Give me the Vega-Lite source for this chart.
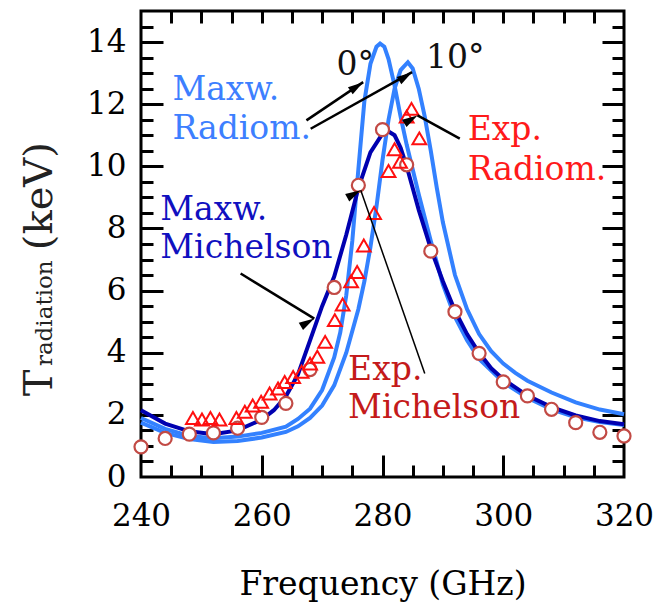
{
  "$schema": "https://vega.github.io/schema/vega-lite/v6.json",
  "width": 483,
  "height": 466,
  "autosize": {"type": "none"},
  "padding": {"left": 141, "top": 11, "right": 38, "bottom": 129},
  "background": "white",
  "config": {
    "view": {"stroke": "black", "strokeWidth": 3},
    "axis": {"grid": false, "domain": false, "labelFont": "DejaVu Serif", "titleFont": "DejaVu Serif", "labelColor": "black", "titleColor": "black", "tickColor": "black", "tickWidth": 3, "labelFontSize": 31, "titleFontWeight": "normal"}
  },
  "datasets": {
    "maxw0": [
      {"f":240,"T":1.9},{"f":244,"T":1.55},{"f":248,"T":1.32},{"f":252,"T":1.25},{"f":256,"T":1.3},{"f":260,"T":1.42},{"f":264,"T":1.62},{"f":266,"T":1.87},{"f":268,"T":2.2},{"f":270,"T":2.8},{"f":272,"T":3.85},{"f":273,"T":4.65},{"f":274,"T":5.85},{"f":275,"T":7.6},{"f":276,"T":9.9},{"f":277,"T":12.1},{"f":278,"T":13.3},{"f":279,"T":13.85},{"f":279.6,"T":13.95},{"f":280.3,"T":13.85},{"f":281,"T":13.45},{"f":282,"T":12.6},{"f":283,"T":11.6},{"f":284,"T":10.7},{"f":286,"T":9.1},{"f":288,"T":7.6},{"f":290,"T":6.2},{"f":292,"T":5.15},{"f":294,"T":4.4},{"f":296,"T":3.8},{"f":300,"T":3.05},{"f":304,"T":2.55},{"f":308,"T":2.18},{"f":312,"T":1.92},{"f":316,"T":1.77},{"f":320,"T":1.67}
    ],
    "maxw10": [
      {"f":240,"T":1.75},{"f":244,"T":1.42},{"f":248,"T":1.22},{"f":252,"T":1.13},{"f":256,"T":1.16},{"f":260,"T":1.27},{"f":264,"T":1.45},{"f":266,"T":1.63},{"f":268,"T":1.9},{"f":270,"T":2.3},{"f":272,"T":2.95},{"f":274,"T":4.0},{"f":276,"T":5.4},{"f":277,"T":6.3},{"f":278,"T":7.4},{"f":279,"T":8.7},{"f":280,"T":10.2},{"f":281,"T":11.5},{"f":282,"T":12.5},{"f":283,"T":13.1},{"f":284.2,"T":13.35},{"f":285,"T":13.15},{"f":286,"T":12.5},{"f":287,"T":11.6},{"f":288,"T":10.5},{"f":289,"T":9.3},{"f":290,"T":8.2},{"f":292,"T":6.5},{"f":294,"T":5.4},{"f":296,"T":4.6},{"f":298,"T":4.05},{"f":300,"T":3.65},{"f":302,"T":3.35},{"f":304,"T":3.1},{"f":308,"T":2.72},{"f":312,"T":2.4},{"f":316,"T":2.17},{"f":320,"T":2.02}
    ],
    "mich": [
      {"f":240,"T":2.15},{"f":244,"T":1.72},{"f":248,"T":1.47},{"f":252,"T":1.38},{"f":256,"T":1.5},{"f":260,"T":1.85},{"f":262,"T":2.15},{"f":264,"T":2.6},{"f":266,"T":3.3},{"f":268,"T":4.4},{"f":270,"T":5.5},{"f":272,"T":6.45},{"f":274,"T":7.8},{"f":276,"T":9.3},{"f":278,"T":10.45},{"f":280,"T":11.05},{"f":281,"T":11.12},{"f":282,"T":11.0},{"f":283,"T":10.6},{"f":284,"T":10.0},{"f":285,"T":9.3},{"f":286,"T":8.6},{"f":288,"T":7.35},{"f":290,"T":6.3},{"f":292,"T":5.35},{"f":294,"T":4.6},{"f":296,"T":4.0},{"f":298,"T":3.5},{"f":300,"T":3.15},{"f":304,"T":2.62},{"f":308,"T":2.25},{"f":312,"T":1.98},{"f":316,"T":1.8},{"f":320,"T":1.7}
    ],
    "expMich": [
      {"f":240,"T":0.97},{"f":244,"T":1.24},{"f":248,"T":1.38},{"f":252,"T":1.42},{"f":256,"T":1.57},{"f":260,"T":1.92},{"f":264,"T":2.37},{"f":268,"T":3.46},{"f":272,"T":6.1},{"f":276,"T":9.39},{"f":280,"T":11.18},{"f":284,"T":10.05},{"f":288,"T":7.27},{"f":292,"T":5.32},{"f":296,"T":3.98},{"f":300,"T":3.06},{"f":304,"T":2.61},{"f":308,"T":2.18},{"f":312,"T":1.75},{"f":316,"T":1.44},{"f":320,"T":1.32}
    ],
    "expRad": [
      {"f":248.6,"T":1.9},{"f":250.1,"T":1.85},{"f":251.5,"T":1.9},{"f":253.0,"T":1.85},{"f":255.8,"T":1.9},{"f":257.2,"T":2.1},{"f":258.5,"T":2.3},{"f":259.9,"T":2.42},{"f":261.3,"T":2.69},{"f":262.7,"T":2.85},{"f":263.8,"T":3.06},{"f":265.2,"T":3.22},{"f":266.6,"T":3.39},{"f":268.0,"T":3.65},{"f":269.2,"T":3.87},{"f":270.5,"T":4.35},{"f":272.1,"T":5.05},{"f":273.4,"T":5.55},{"f":274.8,"T":6.3},{"f":275.8,"T":6.6},{"f":276.9,"T":7.45},{"f":278.6,"T":8.5},{"f":281.0,"T":9.85},{"f":282.0,"T":10.55},{"f":282.9,"T":10.15},{"f":284.0,"T":11.6},{"f":284.8,"T":11.85},{"f":286.1,"T":10.9}
    ],
    "notes": [
      {"label":"Maxw.","f":245.2,"T":12.12,"who":"maxwRad"},
      {"label":"Radiom.","f":245.2,"T":10.89,"who":"maxwRad"},
      {"label":"Exp.","f":294.1,"T":10.84,"who":"expRad"},
      {"label":"Radiom.","f":294.1,"T":9.55,"who":"expRad"},
      {"label":"Maxw.","f":243.2,"T":8.26,"who":"maxwMich"},
      {"label":"Michelson","f":243.2,"T":7.04,"who":"maxwMich"},
      {"label":"Exp.","f":274.3,"T":3.12,"who":"expMich"},
      {"label":"Michelson","f":274.3,"T":1.9,"who":"expMich"},
      {"label":"0°","f":272.4,"T":12.93,"who":"angle"},
      {"label":"10°","f":287.2,"T":13.18,"who":"angle"}
    ],
    "ytitle": [
      {"label":"T","f":225.2,"T":2.6,"part":"big"},
      {"label":"radiation","f":225.3,"T":3.57,"part":"sub"},
      {"label":"(keV)","f":225.2,"T":7.3,"part":"big"}
    ],
    "arrows": [
      {"arrow":"r0","f1":267.4,"T1":11.48,"f2":276.8,"T2":12.71},
      {"arrow":"r10","f1":268.1,"T1":11.21,"f2":284.9,"T2":13.03},
      {"arrow":"er","f1":292.8,"T1":10.89,"f2":285.8,"T2":11.64},
      {"arrow":"mm","f1":256.5,"T1":6.55,"f2":268.7,"T2":5.1},
      {"arrow":"em","f1":287.0,"T1":3.33,"f2":276.4,"T2":9.23}
    ]
  },
  "layer": [
    {
      "data": {"name": "maxw0"},
      "mark": {"type": "line", "color": "#3381ff", "strokeWidth": 4},
      "encoding": {
        "x": {"field": "f", "type": "quantitative", "scale": {"domain": [240, 320], "nice": false, "zero": false},
              "axis": {"orient": "bottom", "values": [240, 260, 280, 300, 320], "ticks": false, "labelPadding": 24, "labelFlush": false, "labelOverlap": false, "title": "Frequency (GHz)", "titleFontSize": 33, "titlePadding": 37}},
        "y": {"field": "T", "type": "quantitative", "scale": {"domain": [0, 15], "nice": false, "zero": false},
              "axis": {"orient": "left", "values": [0, 2, 4, 6, 8, 10, 12, 14], "ticks": false, "labelPadding": 15, "labelFlush": false, "labelOverlap": false, "title": null}}
      }
    },
    {
      "data": {"name": "maxw10"},
      "mark": {"type": "line", "color": "#3381ff", "strokeWidth": 4},
      "encoding": {
        "x": {"field": "f", "type": "quantitative", "axis": {"orient": "bottom", "values": [260, 280, 300], "labels": false, "tickSize": -22, "title": null}},
        "y": {"field": "T", "type": "quantitative", "axis": {"orient": "left", "values": [2, 4, 6, 8, 10, 12, 14], "labels": false, "tickSize": -22, "title": null}}
      }
    },
    {
      "data": {"name": "mich"},
      "mark": {"type": "line", "color": "#0000b0", "strokeWidth": 4},
      "encoding": {
        "x": {"field": "f", "type": "quantitative", "axis": {"orient": "bottom", "values": [245, 250, 255, 265, 270, 275, 285, 290, 295, 305, 310, 315], "labels": false, "tickSize": -12, "title": null}},
        "y": {"field": "T", "type": "quantitative", "axis": {"orient": "left", "values": [0.5, 1, 1.5, 2.5, 3, 3.5, 4.5, 5, 5.5, 6.5, 7, 7.5, 8.5, 9, 9.5, 10.5, 11, 11.5, 12.5, 13, 13.5, 14.5], "labels": false, "tickSize": -12, "title": null}}
      }
    },
    {
      "data": {"name": "expMich"},
      "mark": {"type": "point", "shape": "circle", "filled": true, "fill": "white", "stroke": "#c24a45", "strokeWidth": 2.2, "size": 170, "opacity": 1},
      "encoding": {
        "x": {"field": "f", "type": "quantitative", "axis": {"orient": "top", "values": [245, 250, 255, 260, 265, 270, 275, 280, 285, 290, 295, 300, 305, 310, 315], "labels": false, "tickSize": -12, "title": null}},
        "y": {"field": "T", "type": "quantitative", "axis": {"orient": "right", "values": [2, 4, 6, 8, 10, 12, 14], "labels": false, "tickSize": -22, "title": null}}
      }
    },
    {
      "data": {"name": "expRad"},
      "mark": {"type": "point", "shape": "triangle-up", "filled": false, "stroke": "#ff1010", "strokeWidth": 2, "size": 190, "opacity": 1},
      "encoding": {
        "x": {"field": "f", "type": "quantitative", "axis": null},
        "y": {"field": "T", "type": "quantitative", "axis": {"orient": "right", "values": [0.5, 1, 1.5, 2.5, 3, 3.5, 4.5, 5, 5.5, 6.5, 7, 7.5, 8.5, 9, 9.5, 10.5, 11, 11.5, 12.5, 13, 13.5, 14.5], "labels": false, "tickSize": -12, "title": null}}
      }
    },
    {
      "data": {"name": "arrows"},
      "transform": [{"filter": "datum.arrow != 'em'"}],
      "mark": {"type": "rule", "color": "black", "strokeWidth": 2.5},
      "encoding": {
        "x": {"field": "f1", "type": "quantitative", "axis": null},
        "y": {"field": "T1", "type": "quantitative", "axis": null},
        "x2": {"field": "f2"},
        "y2": {"field": "T2"}
      }
    },
    {
      "data": {"name": "arrows"},
      "transform": [{"filter": "datum.arrow == 'em'"}],
      "mark": {"type": "rule", "color": "black", "strokeWidth": 1.5},
      "encoding": {
        "x": {"field": "f1", "type": "quantitative", "axis": null},
        "y": {"field": "T1", "type": "quantitative", "axis": null},
        "x2": {"field": "f2"},
        "y2": {"field": "T2"}
      }
    },
    {
      "data": {"name": "arrows"},
      "mark": {"type": "point", "shape": "M0,0L-0.55,2L0.55,2Z", "filled": true, "color": "black", "size": 240, "opacity": 1, "strokeWidth": 0},
      "encoding": {
        "x": {"field": "f2", "type": "quantitative", "axis": null},
        "y": {"field": "T2", "type": "quantitative", "axis": null},
        "angle": {"field": "arrow", "type": "nominal", "scale": {"domain": ["r0", "r10", "er", "mm", "em"], "range": [56.1, 60.9, 298.8, 121.4, 340.75]}, "legend": null}
      }
    },
    {
      "data": {"name": "notes"},
      "mark": {"type": "text", "align": "left", "baseline": "alphabetic", "fontSize": 33, "font": "DejaVu Serif"},
      "encoding": {
        "x": {"field": "f", "type": "quantitative", "axis": null},
        "y": {"field": "T", "type": "quantitative", "axis": null},
        "text": {"field": "label"},
        "color": {"field": "who", "type": "nominal", "scale": {"domain": ["maxwRad", "expRad", "maxwMich", "expMich", "angle"], "range": ["#3d7fff", "#ff1a1a", "#1010c0", "#c41a1a", "#111111"]}, "legend": null}
      }
    },
    {
      "data": {"name": "ytitle"},
      "mark": {"type": "text", "align": "left", "baseline": "alphabetic", "angle": 270, "color": "#222222", "font": "DejaVu Serif"},
      "encoding": {
        "x": {"field": "f", "type": "quantitative", "axis": null},
        "y": {"field": "T", "type": "quantitative", "axis": null},
        "text": {"field": "label"},
        "size": {"field": "part", "type": "nominal", "scale": {"domain": ["big", "sub"], "range": [40, 23]}, "legend": null}
      }
    }
  ],
  "resolve": {"axis": {"x": "independent", "y": "independent"}}
}
